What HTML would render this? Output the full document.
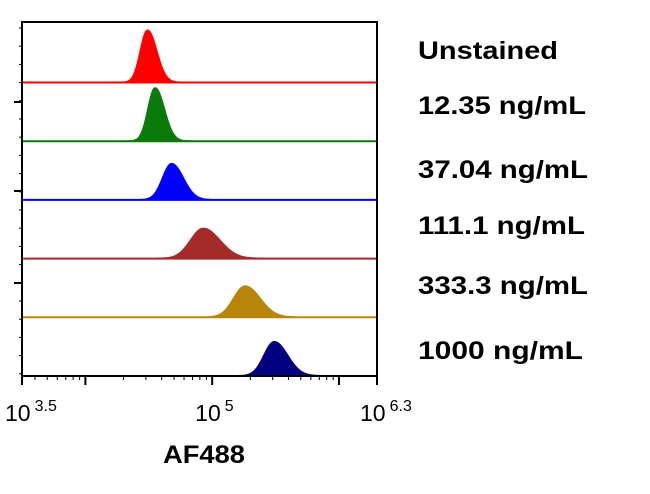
<!DOCTYPE html>
<html><head><meta charset="utf-8"><style>
html,body{margin:0;padding:0;background:#fff;width:650px;height:494px;overflow:hidden}
svg{font-family:"Liberation Sans",Arial,sans-serif}
</style></head><body>
<svg id="chart" width="650" height="494" xmlns="http://www.w3.org/2000/svg"></svg>
<script>
const labels=["Unstained","12.35 ng/mL","37.04 ng/mL","111.1 ng/mL","333.3 ng/mL","1000 ng/mL"];
const colors=["#ff0000","#0a7a0a","#0000ff","#a52a2a","#b8860b","#000080"];
const peakLog=[4.49,4.55,4.68,4.93,5.26,5.49];
const peakSigma=[0.055,0.055,0.07,0.1,0.09,0.08];
const peakHeight=[52,53,36,30,31,34];
const xTickMajor=[4,5,6];
const xMin=3.5,xMax=6.3;
const L=22,R=377,T=22,B=376;
const NS="http://www.w3.org/2000/svg";
const svg=document.getElementById('chart');
const xs=v=>L+(v-xMin)/(xMax-xMin)*(R-L);
const baseY=i=>T+60.5+i*(B-T-60.5)/(labels.length-1);
function el(t,a){const e=document.createElementNS(NS,t);for(const k in a)e.setAttribute(k,a[k]);svg.appendChild(e);return e;}
const labelW=[140,168,170,167,170,165];
labels.forEach((lab,i)=>{
  const by=baseY(i);
  let d=`M${L},${by}`;
  for(let x=L;x<=R;x+=1){
    const v=xMin+(x-L)/(R-L)*(xMax-xMin);
    const dz=v-peakLog[i];
    const s=dz>0?peakSigma[i]*1.3:peakSigma[i];
    const y=by-peakHeight[i]*Math.exp(-dz*dz/(2*s*s));
    d+=` L${x},${y.toFixed(2)}`;
  }
  d+=` L${R},${by} Z`;
  const p=el('path',{d:d,fill:colors[i],stroke:colors[i],'stroke-width':2});
  
  
  const t=el('text',{x:418,y:[59,114,178,234,294,359][i],'font-size':25,'font-weight':'bold',fill:'#000',textLength:labelW[i],lengthAdjust:'spacingAndGlyphs'});
  t.textContent=lab;
  
  
});
const f=el('path',{d:`M${L},${T} H${R} V${B} H${L} Z`,fill:'none',stroke:'#000','stroke-width':2});


for(let y=T+6;y<B;y+=18.2){el('line',{x1:L-3,x2:L,y1:y,y2:y,stroke:'#000','stroke-width':1});}
[102,191,283].forEach(y=>el('line',{x1:L-8,x2:L,y1:y,y2:y,stroke:'#000','stroke-width':2}));
for(let dec=3;dec<=6;dec++){for(let m=2;m<=9;m++){const v=dec+Math.log10(m);if(v>xMin&&v<xMax){const x=xs(v);el('line',{x1:x,x2:x,y1:B,y2:B+4,stroke:'#000','stroke-width':1});}}}
xTickMajor.forEach(v=>{const x=xs(v);el('line',{x1:x,x2:x,y1:B,y2:B+9,stroke:'#000','stroke-width':2});});
[xMin,xMax].forEach(v=>{const x=xs(v);el('line',{x1:x,x2:x,y1:B,y2:B+9,stroke:'#000','stroke-width':2});});
[[xMin,"3.5"],[5,"5"],[xMax,"6.3"]].forEach(([v,e],k)=>{
  const t=el('text',{x:xs(v)-17,y:421,'font-size':23,fill:'#000'});
  t.innerHTML=`10<tspan dy="-10" font-size="16" dx="4">${e}</tspan>`;
  
  
});
const xt=el('text',{x:163,y:463,'font-size':25,'font-weight':'bold',fill:'#000',textLength:82,lengthAdjust:'spacingAndGlyphs'});
xt.textContent='AF488';


</script>
</body></html>
